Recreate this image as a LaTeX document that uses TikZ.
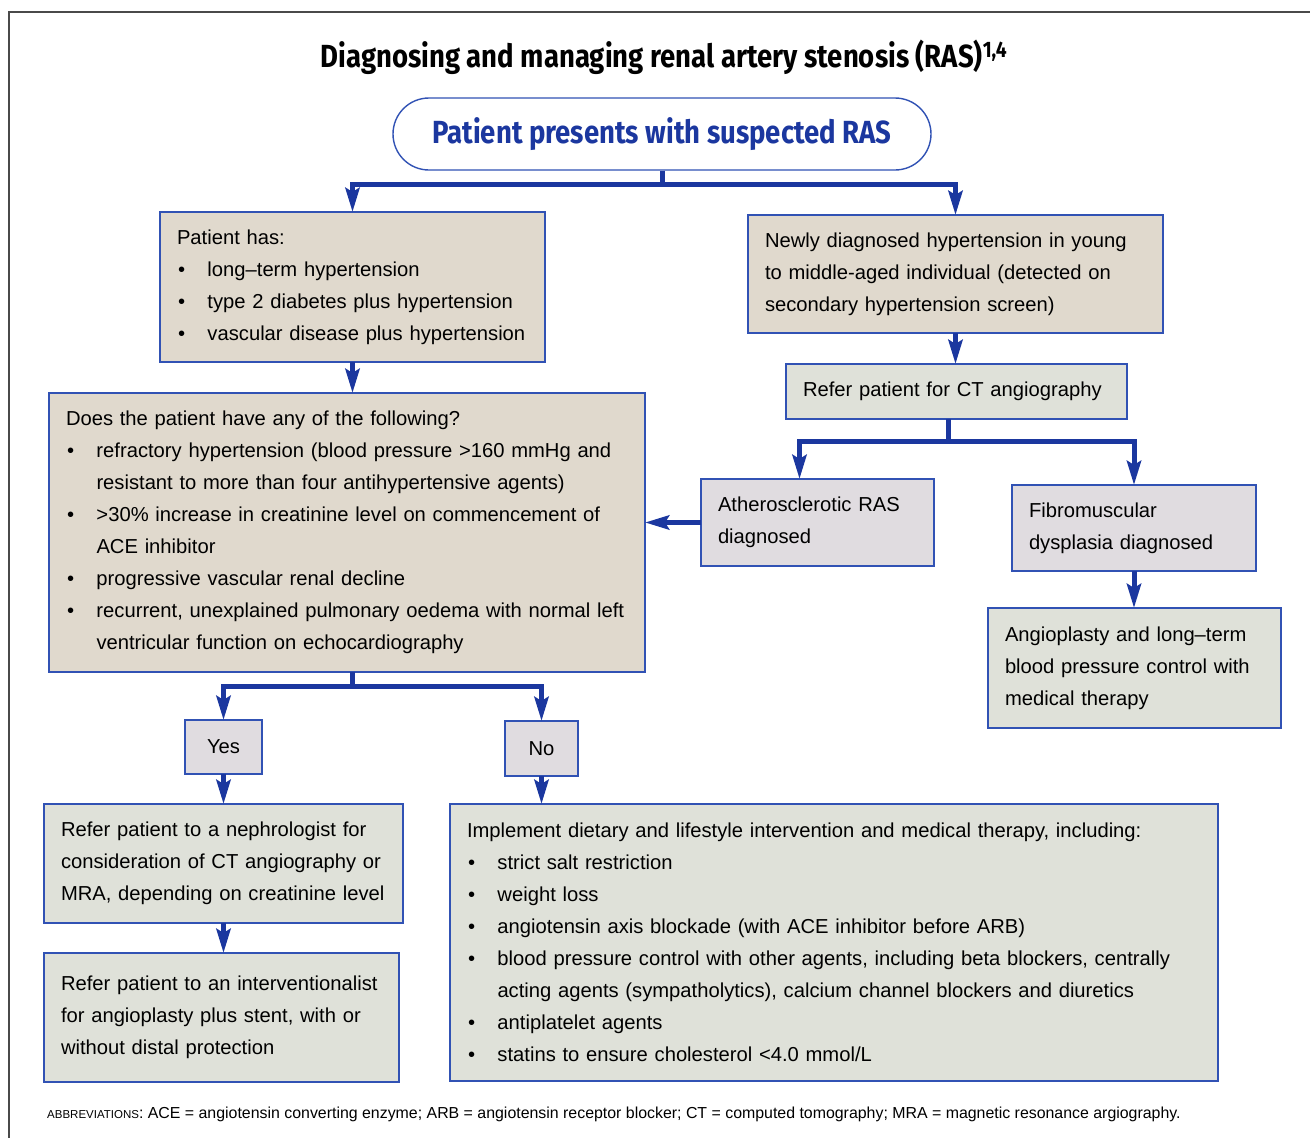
\documentclass[tikz,border=0pt]{standalone}
\usepackage{fontspec}
\setmainfont{Liberation Sans}
\newfontfamily\rasTitleFont{Fira Sans}[FakeStretch=0.86]
\usetikzlibrary{positioning,arrows.meta,calc}
\definecolor{RasArrow}{HTML}{1B379F}
\definecolor{RasEdge}{HTML}{3152B4}
\definecolor{RasBeige}{HTML}{E0D9CD}
\definecolor{RasSage}{HTML}{DFE1D9}
\definecolor{RasLilac}{HTML}{E0DCE0}
\definecolor{RasFrame}{HTML}{4A4A4A}
% body text: no hyphens, long lines may run into the right margin
\newcommand{\rasBody}{\fontsize{20.2pt}{32pt}\selectfont
  \hyphenpenalty=10000\exhyphenpenalty=10000}
\newcommand{\rasPar}{\rightskip=0pt plus 1fil minus 100pt\relax}
\newcommand{\rasBul}{\makebox[30.5pt][l]{\hspace{1pt}\textbullet}}
\newcommand{\rasInd}{\hspace*{30.5pt}}
\tikzset{
  rasLink/.style={line width=5pt, draw=RasArrow},
  rasArrow/.style={rasLink, -{Stealth[length=24pt, width=14pt, inset=4pt]}},
  rasFrame/.style={line width=2pt, draw=RasFrame},
  box/.style={draw=RasEdge, line width=1.4pt, anchor=north west, outer sep=0pt,
    inner xsep=17pt, inner ysep=0pt, align=left, font=\rasBody, text=black},
  boxSize/.style 2 args={minimum width=#1, text width=#1-34pt, minimum height=#2},
  boxBeige/.style={box, fill=RasBeige},
  boxSage/.style={box, fill=RasSage},
  boxLilac/.style={box, fill=RasLilac},
  boxAnswer/.style={box, fill=RasLilac, align=center, inner xsep=0pt},
  bigLbl/.style={font=\rasTitleFont\bfseries\fontsize{32pt}{34pt}\selectfont, text=black},
  startPill/.style={draw=RasEdge, line width=1.4pt, fill=white, rounded corners=36pt,
    minimum width=538, minimum height=72, inner sep=0pt,
    font=\rasTitleFont\bfseries\fontsize{32pt}{34pt}\selectfont, text=RasArrow},
  lbl/.style={font=\fontsize{15.9pt}{18pt}\selectfont, text=black, anchor=base west,
    inner sep=0pt},
}
\begin{document}
\begin{tikzpicture}[x=1pt, y=-1pt]
  \useasboundingbox (0,0) rectangle (1310,1138);
  \draw[rasFrame] (9,1160) -- (9,12) -- (1330,12);

  \node[bigLbl, anchor=base] (title) at (664,67)
    {Diagnosing and managing renal artery stenosis (RAS)\textsuperscript{1,4}};
  \node[startPill] (start) at (662,134) {Patient presents with suspected RAS};

  \node[boxBeige, boxSize={385}{150}] (pa) at (160,212)
    {\rasPar Patient has:\\
     \rasBul long–term hypertension\\
     \rasBul type 2 diabetes plus hypertension\\
     \rasBul vascular disease plus hypertension};
  \node[boxBeige, boxSize={415}{118}] (pb) at (748,215)
    {\rasPar Newly diagnosed hypertension in young\\
     to middle-aged individual (detected on\\
     secondary hypertension screen)};
  \node[boxSage, boxSize={341}{55}] (ct) at (786,364)
    {\rasPar Refer patient for CT angiography};
  \node[boxLilac, boxSize={233}{87}] (ath) at (701,479)
    {\rasPar Atherosclerotic RAS\\diagnosed};
  \node[boxLilac, boxSize={244}{86}] (fib) at (1012,485)
    {\rasPar Fibromuscular\\dysplasia diagnosed};
  \node[boxSage, boxSize={293}{120}] (ang) at (988,608)
    {\rasPar Angioplasty and long–term\\
     blood pressure control with\\
     medical therapy};
  \node[boxBeige, boxSize={596}{279}] (q) at (49,393)
    {\rasPar Does the patient have any of the following?\\
     \rasBul refractory hypertension (blood pressure >160 mmHg and\\
     \rasInd resistant to more than four antihypertensive agents)\\
     \rasBul >30\% increase in creatinine level on commencement of\\
     \rasInd ACE inhibitor\\
     \rasBul progressive vascular renal decline\\
     \rasBul recurrent, unexplained pulmonary oedema with normal left\\
     \rasInd ventricular function on echocardiography};
  \node[boxAnswer, minimum width=77, minimum height=54] (yes) at (185,720) {Yes};
  \node[boxAnswer, minimum width=73, minimum height=55] (no) at (505,721) {No};
  \node[boxSage, boxSize={359}{119}] (r1) at (44,804)
    {\rasPar Refer patient to a nephrologist for\\
     consideration of CT angiography or\\
     MRA, depending on creatinine level};
  \node[boxSage, boxSize={355}{129}] (r2) at (44,953)
    {\rasPar Refer patient to an interventionalist\\
     for angioplasty plus stent, with or\\
     without distal protection};
  \node[boxSage, boxSize={768}{277}] (r3) at (450,804)
    {\rasPar Implement dietary and lifestyle intervention and medical therapy, including:\\
     \rasBul strict salt restriction\\
     \rasBul weight loss\\
     \rasBul angiotensin axis blockade (with ACE inhibitor before ARB)\\
     \rasBul blood pressure control with other agents, including beta blockers, centrally\\
     \rasInd acting agents (sympatholytics), calcium channel blockers and diuretics\\
     \rasBul antiplatelet agents\\
     \rasBul statins to ensure cholesterol <4.0 mmol/L};

  \node[lbl] (abbr) at (47,1118)
    {{\fontsize{11.5pt}{12pt}\selectfont ABBREVIATIONS}: ACE = angiotensin converting enzyme; ARB = angiotensin receptor blocker; CT = computed tomography; MRA = magnetic resonance argiography.};

  \coordinate (jTop) at (662,184);
  \draw[rasLink] (start.south) -- (jTop);
  \draw[rasArrow] (jTop) -| (pa.north);
  \draw[rasArrow] (jTop) -| (pb.north);
  \draw[rasArrow] (pa.south) -- (pa.south |- q.north);
  \draw[rasArrow] (pb.south) -- (pb.south |- ct.north);
  \coordinate (jCT) at (948,441);
  \draw[rasLink] (jCT |- ct.south) -- (jCT);
  \draw[rasArrow] (jCT) -| ([xshift=-18pt]ath.north);
  \draw[rasArrow] (jCT) -| (fib.north);
  \draw[rasArrow] (ath.west) -- (ath.west -| q.east);
  \draw[rasArrow] (fib.south) -- (fib.south |- ang.north);
  \coordinate (jQ) at (352,686);
  \draw[rasLink] (jQ |- q.south) -- (jQ);
  \draw[rasArrow] (jQ) -| (yes.north);
  \draw[rasArrow] (jQ) -| (no.north);
  \draw[rasArrow] (yes.south) -- (yes.south |- r1.north);
  \draw[rasArrow] (no.south) -- (no.south |- r3.north);
  \draw[rasArrow] (r1.south) -- (r1.south |- r2.north);

\end{tikzpicture}
\end{document}
